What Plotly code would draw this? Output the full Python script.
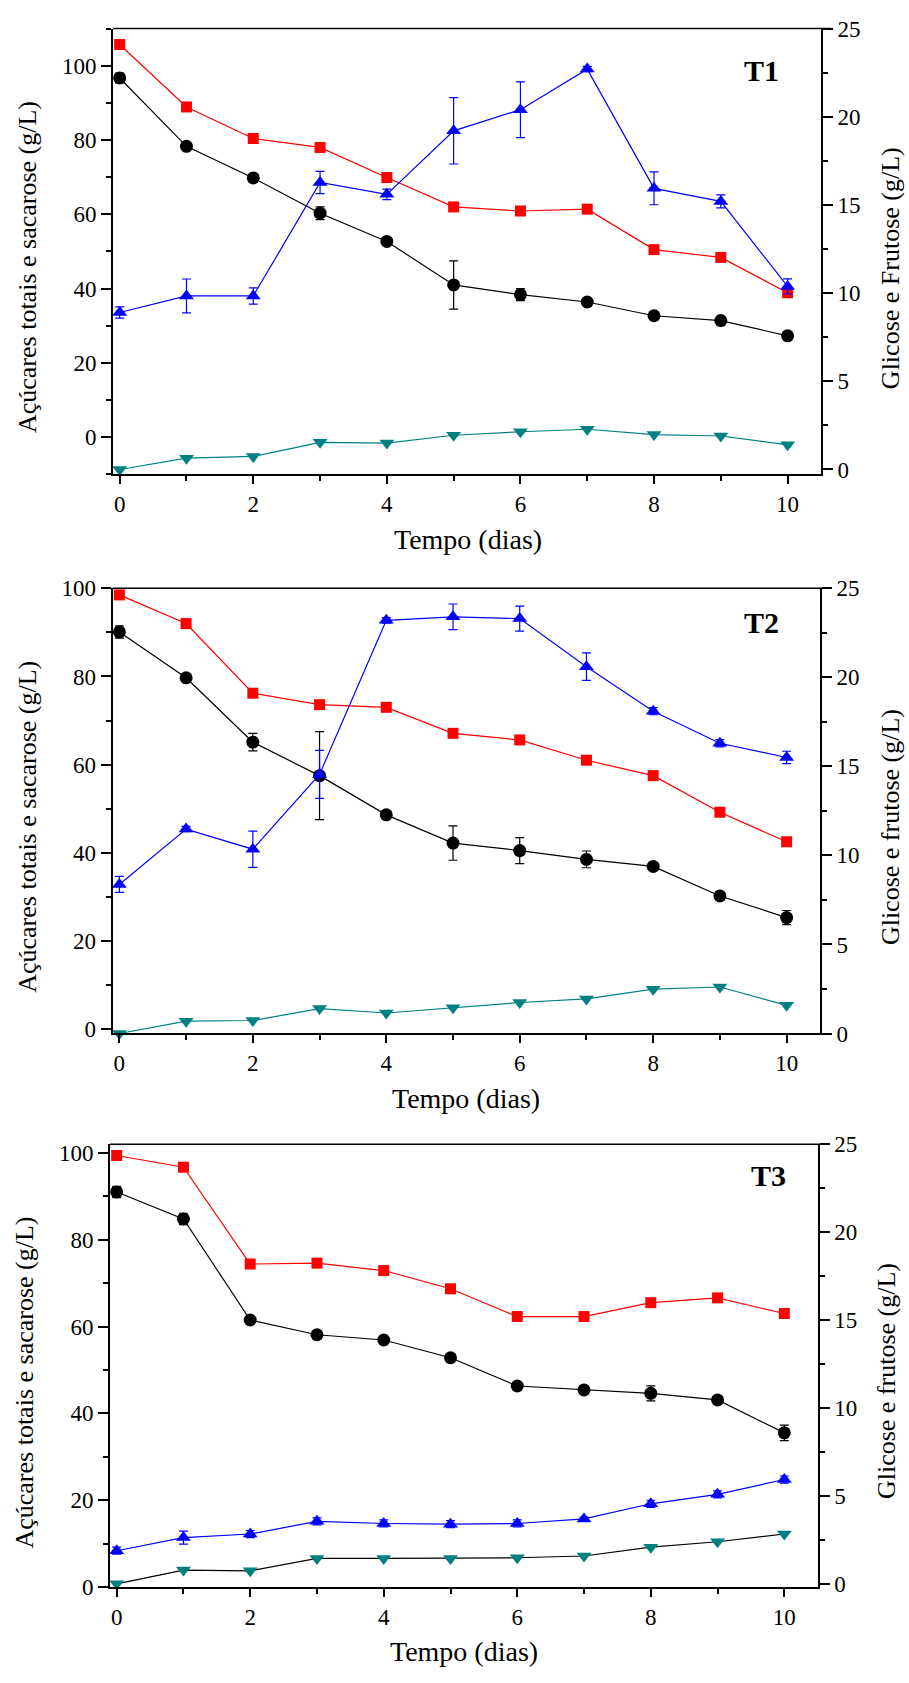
import plotly.graph_objects as go

W, H = 909, 1683
FONT = "Liberation Serif, Times New Roman, serif"

dias = [0, 1, 2, 3, 4, 5, 6, 7, 8, 9, 10]

# ---- T1 ----
t1_totais = [105.7, 88.9, 80.4, 78.0, 69.9, 62.0, 60.9, 61.4, 50.5, 48.4, 38.9]
t1_sacarose = [96.7, 78.3, 69.8, 60.3, 52.7, 41.0, 38.4, 36.4, 32.7, 31.4, 27.3]
t1_sacarose_err = [1.3, 1.0, 0.5, 1.7, 0.5, 6.5, 1.6, 0.5, 0.5, 0.8, 1.0]
t1_glicose = [8.9, 9.84, 9.84, 16.27, 15.6, 19.2, 20.4, 22.7, 15.94, 15.2, 10.38]
t1_glicose_err = [0.32, 0.96, 0.46, 0.63, 0.3, 1.88, 1.58, 0.15, 0.93, 0.37, 0.43]
t1_frutose = [0.0, 0.64, 0.74, 1.54, 1.5, 1.94, 2.14, 2.28, 1.98, 1.9, 1.4]

# ---- T2 ----
t2_totais = [98.5, 92.0, 76.2, 73.6, 73.0, 67.1, 65.6, 61.0, 57.5, 49.2, 42.5]
t2_sacarose = [90.1, 79.7, 65.1, 57.5, 48.6, 42.2, 40.5, 38.5, 36.9, 30.2, 25.3]
t2_sacarose_err = [1.4, 0.5, 2.0, 10.0, 0.5, 3.9, 2.96, 1.9, 0.5, 0.5, 1.6]
t2_glicose = [8.37, 11.48, 10.35, 14.55, 23.2, 23.4, 23.3, 20.6, 18.1, 16.3, 15.5]
t2_glicose_err = [0.45, 0.15, 1.02, 1.35, 0.15, 0.72, 0.7, 0.77, 0.2, 0.2, 0.35]
t2_frutose = [0.0, 0.69, 0.73, 1.40, 1.15, 1.44, 1.74, 1.94, 2.49, 2.61, 1.58]

# ---- T3 ----
t3_totais = [99.4, 96.7, 74.4, 74.6, 72.9, 68.7, 62.3, 62.3, 65.5, 66.6, 63.0]
t3_sacarose = [91.0, 84.8, 61.5, 58.1, 56.9, 52.8, 46.3, 45.4, 44.6, 43.1, 35.5]
t3_sacarose_err = [1.3, 1.3, 0.4, 0.4, 0.4, 0.4, 0.5, 0.4, 1.75, 0.5, 1.8]
t3_glicose = [1.88, 2.63, 2.83, 3.55, 3.43, 3.39, 3.43, 3.69, 4.55, 5.09, 5.93]
t3_glicose_err = [0.2, 0.37, 0.2, 0.2, 0.2, 0.2, 0.2, 0.1, 0.2, 0.2, 0.2]
t3_frutose = [0.0, 0.78, 0.74, 1.44, 1.44, 1.44, 1.48, 1.58, 2.08, 2.39, 2.83]
frutose_err = [0.12] * 11

panel_labels = ["T1", "T2", "T3"]
left_title = "Açúcares totais e sacarose (g/L)"
right_titles = ["Glicose e Frutose (g/L)", "Glicose e frutose (g/L)", "Glicose e frutose (g/L)"]
x_title = "Tempo (dias)"

RED, BLACK, BLUE, TEAL = "#FF0000", "#000000", "#0000FF", "#008080"

# panel geometry in pixels (left, right, top, bottom)
panels = [
    dict(l=113, r=821, t=16.8, b=469.4, yl=[-10, 110], yr=[-0.28, 25],
         lt=(27.5, 259.4), rt=(890.7, 260.3), xt=(468, 535.5), lab=(761, 59)),
    dict(l=112.7, r=820, t=585.0, b=1036.9, yl=[-1, 100], yr=[0, 25],
         lt=(26.7, 827.4), rt=(890, 827.4), xt=(466, 1103), lab=(761, 620)),
    dict(l=110, r=817.7, t=1149.3, b=1598.7, yl=[0, 102], yr=[-0.18, 25],
         lt=(24.2, 1391), rt=(886.7, 1390), xt=(464, 1664.5), lab=(768, 1181)),
]

data = [
    (t1_totais, t1_sacarose, t1_sacarose_err, t1_glicose, t1_glicose_err, t1_frutose, TEAL),
    (t2_totais, t2_sacarose, t2_sacarose_err, t2_glicose, t2_glicose_err, t2_frutose, TEAL),
    (t3_totais, t3_sacarose, t3_sacarose_err, t3_glicose, t3_glicose_err, t3_frutose, BLACK),
]

fig = go.Figure()
layout = dict(width=W, height=H, margin=dict(l=0, r=0, t=0, b=0),
              paper_bgcolor="white", plot_bgcolor="white", showlegend=False,
              font=dict(family=FONT, color="black"))
annotations = []
shapes = []

tickfont = dict(family=FONT, size=23, color="black")

for i, (p, d) in enumerate(zip(panels, data)):
    xa = "x" if i == 0 else f"x{i+1}"
    yl = f"y{2*i+1}" if i > 0 else "y"
    yr = f"y{2*i+2}"
    xkey = "xaxis" if i == 0 else f"xaxis{i+1}"
    ylkey = "yaxis" if i == 0 else f"yaxis{2*i+1}"
    yrkey = f"yaxis{2*i+2}"
    xdom = [p["l"] / W, p["r"] / W]
    ydom = [1 - p["b"] / H, 1 - p["t"] / H]

    totais, sac, sac_err, gli, gli_err, fru, fru_line = d

    fig.add_trace(go.Scatter(x=dias, y=sac, xaxis=xa, yaxis=yl, mode="lines+markers",
                             line=dict(color=BLACK, width=1.2),
                             marker=dict(symbol="circle", size=13, color=BLACK),
                             error_y=dict(type="data", array=sac_err, color=BLACK, thickness=1.2, width=4.5),
                             cliponaxis=False))
    fig.add_trace(go.Scatter(x=dias, y=totais, xaxis=xa, yaxis=yl, mode="lines+markers",
                             line=dict(color=RED, width=1.2),
                             marker=dict(symbol="square", size=11, color=RED),
                             cliponaxis=False))
    fig.add_trace(go.Scatter(x=dias, y=gli, xaxis=xa, yaxis=yr, mode="lines+markers",
                             line=dict(color=BLUE, width=1.2),
                             marker=dict(symbol="triangle-up", size=13, color=BLUE),
                             error_y=dict(type="data", array=gli_err, color=BLUE, thickness=1.2, width=4.5),
                             cliponaxis=False))
    fig.add_trace(go.Scatter(x=dias, y=fru, xaxis=xa, yaxis=yr, mode="lines+markers",
                             line=dict(color=fru_line, width=1.2),
                             marker=dict(symbol="triangle-down", size=13, color=TEAL),
                             error_y=dict(type="data", array=frutose_err, color=TEAL, thickness=1.2, width=0),
                             cliponaxis=False))

    layout[xkey] = dict(domain=xdom, anchor=yl, range=[-0.1, 10.5], tick0=0, dtick=2,
                        ticks="outside", ticklen=8, tickwidth=1.5, tickcolor="black",
                        showline=True, linewidth=2, linecolor="black", mirror=False,
                        showgrid=False, zeroline=False, tickfont=tickfont,
                        minor=dict(dtick=1, ticks="outside", ticklen=5, tickwidth=1.5, tickcolor="black"))
    layout[ylkey] = dict(domain=ydom, anchor=xa, range=p["yl"], tick0=0, dtick=20,
                         ticks="outside", ticklen=10, tickwidth=1.5, tickcolor="black",
                         showline=True, linewidth=2, linecolor="black",
                         showgrid=False, zeroline=False, tickfont=tickfont,
                         minor=dict(dtick=10, ticks="outside", ticklen=5, tickwidth=1.5, tickcolor="black"))
    layout[yrkey] = dict(overlaying=yl, anchor=xa, side="right", range=p["yr"], tick0=0, dtick=5,
                         ticks="outside", ticklen=10, tickwidth=1.5, tickcolor="black",
                         showline=True, linewidth=2, linecolor="black",
                         showgrid=False, zeroline=False, tickfont=tickfont,
                         minor=dict(dtick=2.5, ticks="outside", ticklen=5, tickwidth=1.5, tickcolor="black"))

    # top frame line (thin)
    shapes.append(dict(type="line", xref="paper", yref="paper",
                       x0=xdom[0], x1=(p["r"] + 10) / W, y0=ydom[1], y1=ydom[1],
                       line=dict(color="black", width=1.5)))

    annotations.append(dict(text=left_title, xref="paper", yref="paper",
                            x=p["lt"][0] / W, y=1 - p["lt"][1] / H, textangle=-90,
                            showarrow=False, xanchor="center", yanchor="middle",
                            font=dict(family=FONT, size=26, color="black")))
    annotations.append(dict(text=right_titles[i], xref="paper", yref="paper",
                            x=p["rt"][0] / W, y=1 - p["rt"][1] / H, textangle=-90,
                            showarrow=False, xanchor="center", yanchor="middle",
                            font=dict(family=FONT, size=26, color="black")))
    annotations.append(dict(text=x_title, xref="paper", yref="paper",
                            x=p["xt"][0] / W, y=1 - p["xt"][1] / H,
                            showarrow=False, xanchor="center", yanchor="middle",
                            font=dict(family=FONT, size=28, color="black")))
    annotations.append(dict(text="<b>" + panel_labels[i] + "</b>", xref="paper", yref="paper",
                            x=p["lab"][0] / W, y=1 - p["lab"][1] / H,
                            showarrow=False, xanchor="center", yanchor="middle",
                            font=dict(family=FONT, size=30, color="black")))

layout["annotations"] = annotations
layout["shapes"] = shapes
fig.update_layout(**layout)
fig.write_html("out.html")
